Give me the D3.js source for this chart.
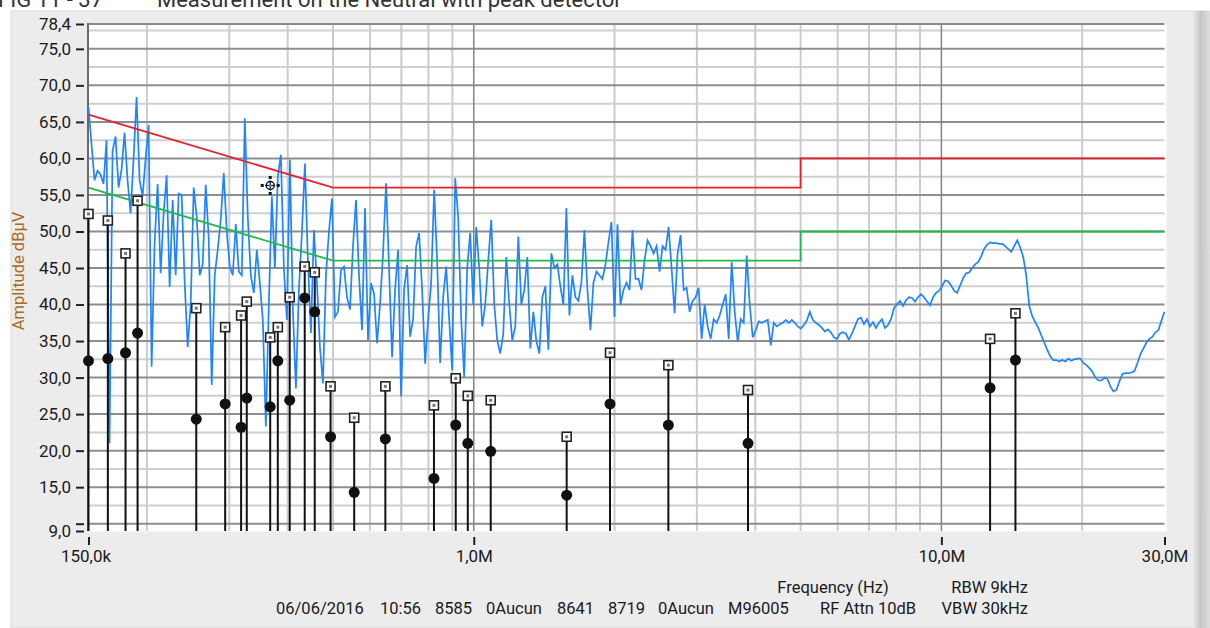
<!DOCTYPE html>
<html>
<head>
<meta charset="utf-8">
<script src="https://cdn.jsdelivr.net/npm/d3@7"></script>
<style>
body { margin: 0; background: #fff; }
text { font-family: Roboto, "Liberation Sans", sans-serif; }
</style>
</head>
<body>
<div id="chart"></div>
<script>
// axis ticks
const xTickFreqs = [0.15, 1, 10, 30];
const xTickLabels = ["150,0k", "1,0M", "10,0M", "30,0M"];
const yTickValues = [9, 10, 15, 20, 25, 30, 35, 40, 45, 50, 55, 60, 65, 70, 75, 78.4];
const yMajorGrid = [10, 15, 20, 25, 30, 35, 40, 45, 50, 55, 60, 65, 70, 75];
const yMinorGrid = [12.5, 17.5, 22.5, 27.5, 32.5, 37.5, 42.5, 47.5, 52.5, 57.5, 62.5, 67.5, 72.5, 77.5];
const xMajorGrid = [1, 10];
const xMinorGrid = [0.2, 0.3, 0.4, 0.5, 0.6, 0.7, 0.8, 0.9, 2, 3, 4, 5, 6, 7, 8, 9, 20];

// limit lines (MHz, dBuV)
const limitFreqs = [0.15, 0.5, 5, 5, 30];
const limitQP = [66, 56, 56, 60, 60];
const limitAV = [56, 46, 46, 50, 50];

// final measurement points (MHz)
const peakFreqs = [0.150, 0.165, 0.180, 0.191, 0.255, 0.294, 0.318, 0.327, 0.367, 0.381, 0.404, 0.435, 0.457,
  0.494, 0.555, 0.647, 0.822, 0.915, 0.971, 1.087, 1.580, 1.956, 2.607, 3.859, 12.71, 14.40];
const qpValues = [52.4, 51.5, 47.0, 54.2, 39.5, 36.9, 38.5, 40.4, 35.5, 36.9, 41.0, 45.2, 44.4,
  28.8, 24.5, 28.8, 26.2, 29.9, 27.5, 26.9, 21.9, 33.4, 31.7, 28.3, 35.3, 38.8];
const avValues = [32.3, 32.6, 33.4, 36.1, 24.3, 26.4, 23.2, 27.2, 26.0, 32.3, 26.9, 40.9, 39.0,
  21.9, 14.3, 21.6, 16.2, 23.5, 21.0, 19.9, 13.9, 26.4, 23.5, 21.0, 28.6, 32.4];

// cursor
const cursorFreq = 0.367;
const cursorValue = 56.3;

// peak detector scan, 150 kHz .. 30 MHz (log spaced sweep points)
const scanStart = 0.15, scanStop = 30;
const trace = [
  67.0, 62.0, 57.0, 58.3, 57.8, 56.5, 62.5, 21.0, 61.0, 63.0, 56.0, 58.5, 63.5, 57.0, 52.5, 60.0, 68.4, 57.0, 54.8, 60.0,
  64.6, 31.5, 48.5, 56.5, 44.3, 52.5, 57.7, 42.4, 54.3, 44.0, 55.2, 55.0, 43.0, 34.2, 40.0, 56.0, 52.0, 44.0, 45.5, 56.4,
  49.0, 29.0, 44.0, 47.5, 51.6, 58.0, 50.0, 45.2, 44.0, 51.0, 44.5, 44.0, 65.5, 52.0, 44.0, 41.6, 47.5, 43.0, 37.9, 23.3,
  40.0, 54.8, 45.0, 57.5, 60.5, 45.0, 37.9, 59.8, 39.3, 28.5, 42.0, 49.8, 59.3, 46.0, 36.1, 50.2, 43.0, 34.2, 29.2, 44.0,
  50.0, 54.5, 38.3, 39.0, 44.7, 45.2, 41.0, 39.3, 48.0, 54.3, 44.0, 36.5, 53.2, 35.1, 42.9, 41.5, 34.7, 40.0, 47.0, 56.6,
  45.0, 32.8, 42.0, 47.5, 27.4, 42.0, 45.4, 35.6, 38.0, 47.9, 49.8, 42.0, 31.9, 38.0, 42.9, 55.7, 46.0, 32.0, 41.0, 45.2,
  38.0, 31.0, 57.3, 52.0, 38.0, 30.1, 45.0, 49.8, 40.0, 50.6, 45.0, 37.0, 40.0, 46.0, 51.6, 40.0, 35.1, 33.3, 36.0, 46.5,
  40.0, 35.1, 37.0, 49.3, 40.0, 42.0, 46.5, 34.0, 39.0, 35.0, 33.3, 41.0, 42.5, 33.8, 47.0, 45.0, 45.5, 42.5, 40.0, 53.2,
  38.5, 44.0, 41.0, 40.5, 43.0, 50.2, 42.0, 36.5, 43.0, 44.5, 44.0, 43.5, 45.5, 48.5, 51.3, 38.3, 51.0, 40.0, 42.0, 43.0,
  42.0, 50.2, 43.5, 43.5, 42.0, 46.0, 48.8, 48.0, 47.0, 48.0, 44.5, 48.0, 47.5, 50.6, 45.0, 38.8, 47.0, 49.5, 42.0, 42.3,
  39.0, 40.5, 41.0, 42.3, 35.3, 40.0, 37.0, 35.3, 38.0, 37.5, 38.5, 40.0, 41.4, 35.3, 45.8, 39.0, 34.9, 38.0, 37.5, 46.7,
  40.0, 35.5, 36.5, 37.7, 37.5, 37.7, 37.9, 34.4, 37.5, 37.0, 37.3, 37.5, 37.9, 37.5, 37.9, 37.5, 37.0, 36.7, 37.2, 37.8,
  39.0, 37.9, 37.5, 37.2, 36.8, 36.3, 36.6, 36.2, 35.5, 35.3, 36.0, 36.2, 36.0, 35.2, 36.0, 37.0, 38.0, 38.2, 37.3, 38.0,
  37.0, 37.6, 36.8, 37.5, 38.0, 36.8, 37.2, 38.0, 39.5, 40.0, 40.5, 39.8, 40.6, 41.0, 40.9, 40.4, 41.0, 41.4, 41.0, 40.4,
  39.9, 41.0, 41.6, 41.9, 42.5, 43.3, 43.2, 42.6, 41.9, 41.6, 42.6, 43.6, 44.3, 44.4, 45.0, 45.5, 45.8, 46.6, 47.6, 48.2,
  48.5, 48.4, 48.4, 48.3, 48.3, 48.0, 47.6, 47.2, 48.0, 48.8, 47.8, 46.5, 44.0, 39.8, 38.4, 37.6, 36.8, 35.8, 34.8, 33.8,
  32.9, 32.4, 32.4, 32.2, 32.4, 32.2, 32.6, 32.3, 32.5, 32.6, 32.6, 32.0, 31.7, 31.3, 30.8, 30.0, 29.6, 29.6, 30.0, 29.8,
  28.8, 28.1, 28.3, 29.5, 30.5, 30.6, 30.6, 30.7, 30.9, 32.0, 33.2, 34.0, 34.8, 35.3, 35.6, 36.2, 36.5, 37.8, 39.0
];

const width = 1210;
const height = 628;
const plot = { left: 88.5, right: 1164.5, top: 24, bottom: 531 };

const svg = d3.select("#chart")
    .append("svg")
    .attr("width", width)
    .attr("height", height);

// panel background + right shading
const defs = svg.append("defs");
const grad = defs.append("linearGradient").attr("id", "shade").attr("x1", 0).attr("x2", 1);
grad.append("stop").attr("offset", "0%").attr("stop-color", "#e8e8e8");
grad.append("stop").attr("offset", "45%").attr("stop-color", "#c6c6c6");
grad.append("stop").attr("offset", "100%").attr("stop-color", "#dedede");

svg.append("rect")
    .attr("x", 11).attr("y", 11)
    .attr("width", width - 11).attr("height", height - 11)
    .attr("fill", "#ececec")
    .attr("stroke", "#dadada");

svg.append("rect")
    .attr("x", 1193).attr("y", 11)
    .attr("width", 17).attr("height", height - 11)
    .attr("fill", "url(#shade)");

// caption, cut by the top edge as in the source screenshot
svg.append("text")
    .attr("x", -2).attr("y", 7)
    .attr("font-size", 22)
    .attr("fill", "#333")
    .text("FIG 11 - 37");
svg.append("text")
    .attr("x", 157).attr("y", 7)
    .attr("font-size", 22)
    .attr("fill", "#333")
    .text("Measurement on the Neutral with peak detector");

const x = d3.scaleLog().domain([0.15, 30]).range([plot.left, plot.right]);
const y = d3.scaleLinear().domain([9, 78.4]).range([plot.bottom, plot.top]);

// plot area
svg.append("rect")
    .attr("x", plot.left - 0.5).attr("y", plot.top - 1)
    .attr("width", plot.right - plot.left + 2.5)
    .attr("height", plot.bottom - plot.top + 1.5)
    .attr("fill", "#fff");

const grid = svg.append("g");

grid.selectAll(".hminor")
    .data(yMinorGrid)
    .enter().append("line")
    .attr("x1", plot.left).attr("x2", plot.right)
    .attr("y1", d => y(d)).attr("y2", d => y(d))
    .attr("stroke", "#cfcfcf").attr("stroke-width", 2);

grid.selectAll(".vminor")
    .data(xMinorGrid)
    .enter().append("line")
    .attr("x1", d => x(d)).attr("x2", d => x(d))
    .attr("y1", plot.top).attr("y2", plot.bottom)
    .attr("stroke", "#cccccc").attr("stroke-width", 2);

grid.selectAll(".hmajor")
    .data(yMajorGrid)
    .enter().append("line")
    .attr("x1", plot.left).attr("x2", plot.right)
    .attr("y1", d => y(d)).attr("y2", d => y(d))
    .attr("stroke", "#8e8e8e").attr("stroke-width", 2);

grid.selectAll(".vmajor")
    .data(xMajorGrid)
    .enter().append("line")
    .attr("x1", d => x(d)).attr("x2", d => x(d))
    .attr("y1", plot.top).attr("y2", plot.bottom)
    .attr("stroke", "#858585").attr("stroke-width", 1.5);

// frame
grid.append("line")
    .attr("x1", plot.left).attr("x2", plot.right)
    .attr("y1", plot.top).attr("y2", plot.top)
    .attr("stroke", "#8a8a8a").attr("stroke-width", 2);
grid.append("line")
    .attr("x1", plot.left - 0.5).attr("x2", plot.left - 0.5)
    .attr("y1", plot.top - 1).attr("y2", plot.bottom)
    .attr("stroke", "#6a6a6a").attr("stroke-width", 2);

// axes
const fmt = d => d.toFixed(1).replace(".", ",");

const yAxis = svg.append("g")
    .attr("transform", `translate(84,0)`)
    .call(d3.axisLeft(y)
        .tickValues(yTickValues)
        .tickSize(8)
        .tickPadding(5)
        .tickFormat(d => d === 10 ? "" : fmt(d)));
yAxis.select(".domain").remove();
yAxis.selectAll(".tick line").attr("stroke", "#222").attr("stroke-width", 2);
yAxis.selectAll(".tick text")
    .attr("font-family", "Roboto, sans-serif")
    .attr("font-size", 17)
    .attr("fill", "#1a1a1a");

const xAxis = svg.append("g")
    .attr("transform", `translate(0,537)`)
    .call(d3.axisBottom(x)
        .tickValues(xTickFreqs)
        .tickSize(8)
        .tickPadding(5)
        .tickFormat((d, i) => xTickLabels[i]));
xAxis.select(".domain").remove();
xAxis.selectAll(".tick line").attr("stroke", "#222").attr("stroke-width", 2);
xAxis.selectAll(".tick text")
    .attr("font-family", "Roboto, sans-serif")
    .attr("font-size", 17)
    .attr("fill", "#1a1a1a");
xAxis.selectAll(".tick text").filter((d, i) => i === 0).attr("dx", -3);

svg.append("text")
    .attr("transform", "translate(24,271) rotate(-90)")
    .attr("text-anchor", "middle")
    .attr("font-size", 16.5)
    .attr("fill", "#a86b1c")
    .text("Amplitude dBµV");

// footer
const footer = svg.append("g")
    .attr("font-size", 16.5)
    .attr("fill", "#1a1a1a");
footer.append("text").attr("x", 833).attr("y", 593).attr("text-anchor", "middle").text("Frequency (Hz)");
footer.append("text").attr("x", 1028).attr("y", 593).attr("text-anchor", "end").text("RBW 9kHz");
const info = ["06/06/2016", "10:56", "8585", "0Aucun", "8641", "8719", "0Aucun", "M96005", "RF Attn 10dB"];
const infoX = [276, 380, 435, 486, 557, 608, 658, 728, 820];
footer.selectAll(".info")
    .data(info)
    .enter().append("text")
    .attr("x", (d, i) => infoX[i])
    .attr("y", 614)
    .text(d => d);
footer.append("text").attr("x", 1028).attr("y", 614).attr("text-anchor", "end").text("VBW 30kHz");

// scan trace
const scanIndex = d3.scaleLinear()
    .domain([0, trace.length - 1])
    .range([Math.log10(scanStart), Math.log10(scanStop)]);

const traceLine = d3.line()
    .x((d, i) => x(Math.pow(10, scanIndex(i))))
    .y(d => y(d));

svg.append("path")
    .datum(trace)
    .attr("d", traceLine)
    .attr("fill", "none")
    .attr("stroke", "#1e84ff")
    .attr("stroke-width", 1.7)
    .attr("stroke-linejoin", "miter");

// limit lines
const limitLine = d3.line()
    .x((d, i) => x(limitFreqs[i]))
    .y(d => y(d));

svg.append("path")
    .datum(limitAV)
    .attr("d", limitLine)
    .attr("fill", "none")
    .attr("stroke", "#22b84a")
    .attr("stroke-width", 1.8);

svg.append("path")
    .datum(limitQP)
    .attr("d", limitLine)
    .attr("fill", "none")
    .attr("stroke", "#e8202a")
    .attr("stroke-width", 1.8);

// final measurement stems
const stems = svg.append("g");
stems.selectAll(".stem")
    .data(peakFreqs)
    .enter().append("line")
    .attr("x1", d => x(d)).attr("x2", d => x(d))
    .attr("y1", plot.bottom)
    .attr("y2", (d, i) => y(qpValues[i]))
    .attr("stroke", "#111")
    .attr("stroke-width", 2);

stems.selectAll(".qp")
    .data(peakFreqs)
    .enter().append("rect")
    .attr("x", d => x(d) - 4.5)
    .attr("y", (d, i) => y(qpValues[i]) - 4.5)
    .attr("width", 9).attr("height", 9)
    .attr("fill", "#fff")
    .attr("stroke", "#222")
    .attr("stroke-width", 1.6);

stems.selectAll(".qpin")
    .data(peakFreqs)
    .enter().append("rect")
    .attr("x", d => x(d) - 1.5)
    .attr("y", (d, i) => y(qpValues[i]) - 1.5)
    .attr("width", 3).attr("height", 3)
    .attr("fill", "#777");

stems.selectAll(".av")
    .data(peakFreqs)
    .enter().append("circle")
    .attr("cx", d => x(d))
    .attr("cy", (d, i) => y(avValues[i]))
    .attr("r", 5.5)
    .attr("fill", "#111");

// cursor
const cx = x(cursorFreq), cy = y(cursorValue);
const cur = svg.append("g").attr("transform", `translate(${cx},${cy})`);
[[0, -8], [-8, 0], [8, 0], [0, 8]].forEach(p => {
    cur.append("rect").attr("x", p[0] - 1.5).attr("y", p[1] - 1.5).attr("width", 3).attr("height", 3).attr("fill", "#111");
});
cur.append("circle").attr("r", 4).attr("fill", "none").attr("stroke", "#111").attr("stroke-width", 1.4);
cur.append("line").attr("x1", -5).attr("x2", 5).attr("stroke", "#111").attr("stroke-width", 1.2);
cur.append("line").attr("y1", -5).attr("y2", 5).attr("stroke", "#111").attr("stroke-width", 1.2);
cur.append("circle").attr("r", 1.5).attr("fill", "#1e84ff");
</script>
</body>
</html>
